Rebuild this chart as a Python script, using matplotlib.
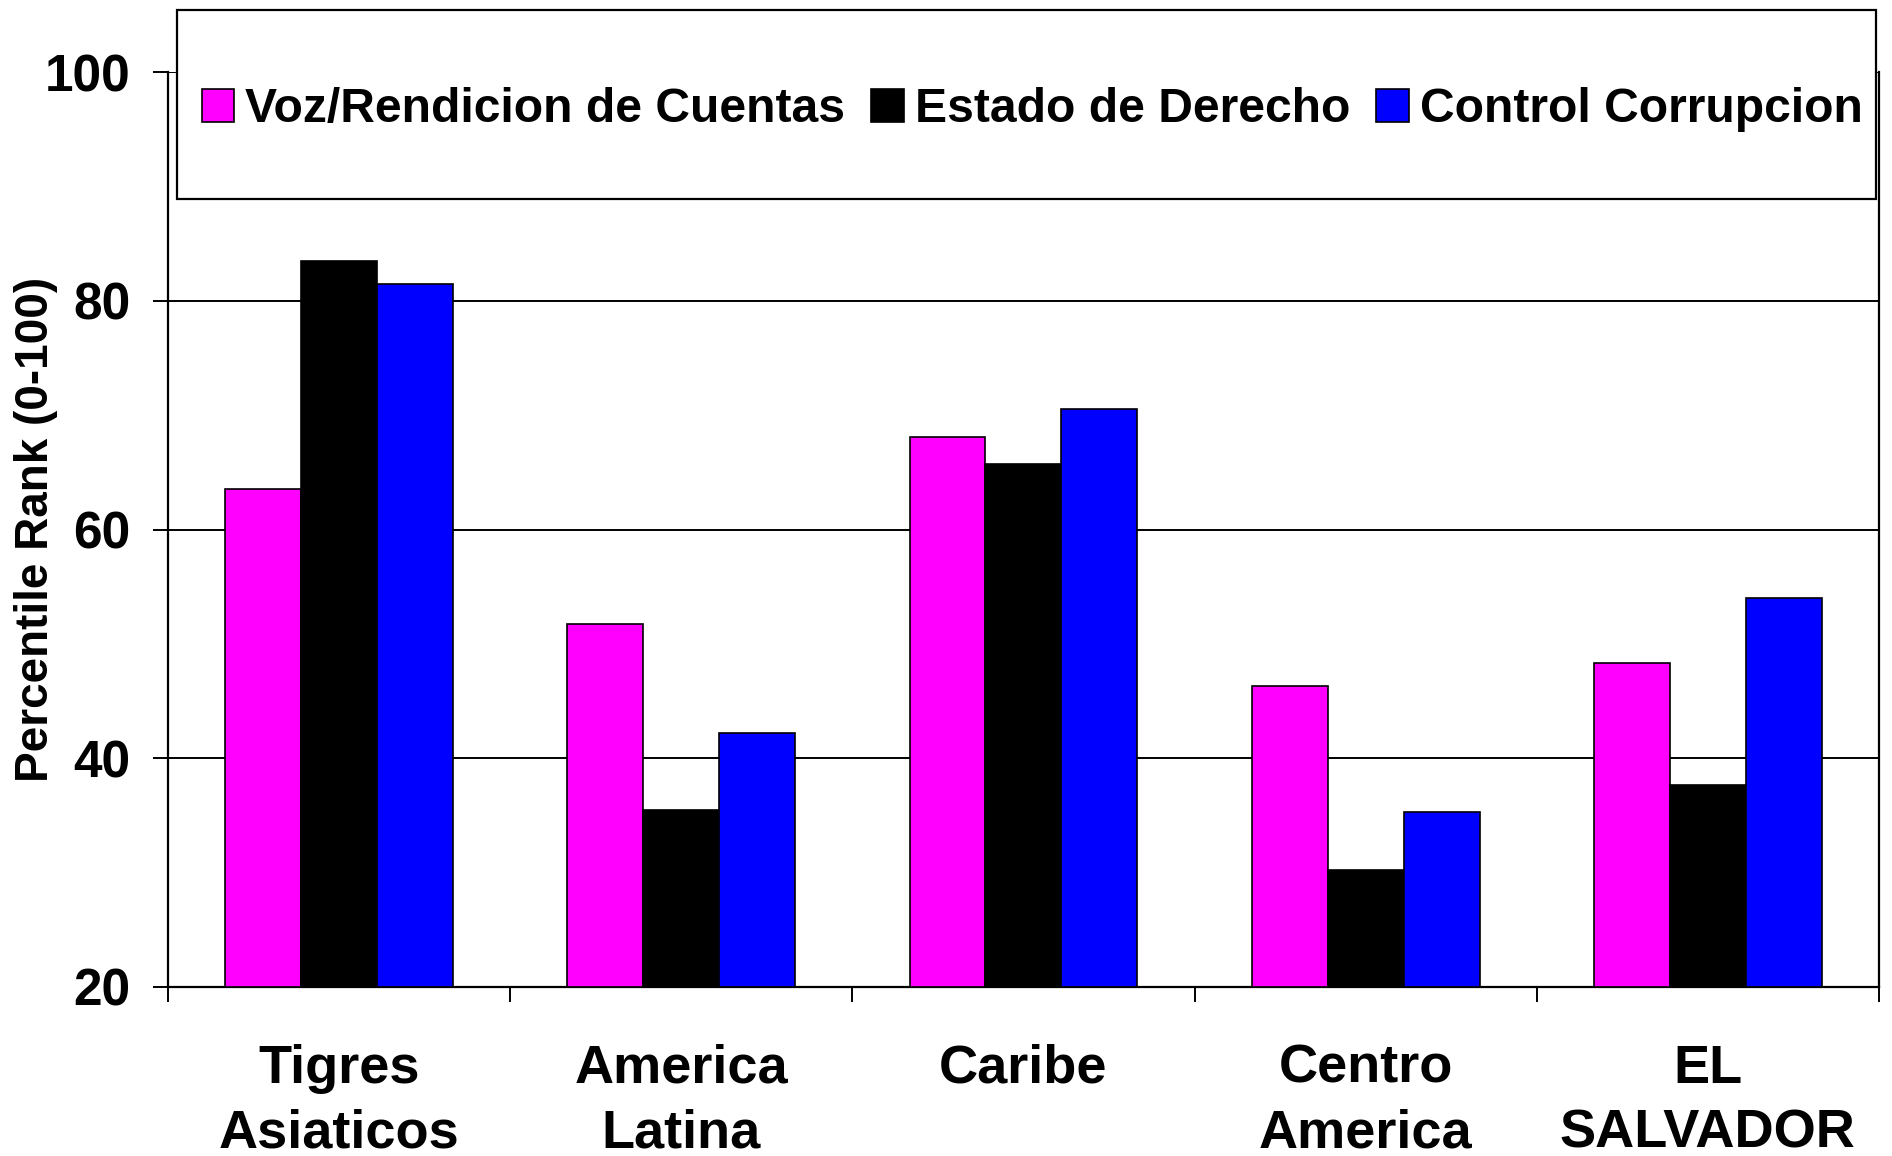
import numpy as np
from matplotlib import pyplot as plt
from matplotlib.patches import Rectangle

#---Data---#
regiones = ["Tigres\nAsiaticos", "America\nLatina", "Caribe", "Centro\nAmerica", "EL\nSALVADOR"]
voz = [63.5, 51.7, 68.1, 46.3, 48.3]
estado = [83.5, 35.5, 65.7, 30.2, 37.7]
corrupcion = [81.5, 42.2, 70.5, 35.3, 54.0]
series = ["Voz/Rendicion de Cuentas", "Estado de Derecho", "Control Corrupcion"]
colores = ["#FF00FF", "#000000", "#0000FF"]
#---End of Data---#

plt.rcParams['font.family'] = ['Liberation Sans', 'DejaVu Sans']
plt.rcParams['font.weight'] = 'bold'

fig = plt.figure(figsize=(18.92, 11.56), dpi=100)
ax = fig.add_axes([0.0888, 0.1462, 0.9043, 0.7915])

x = np.arange(len(regiones))
w = 0.222
for i, vals in enumerate([voz, estado, corrupcion]):
	ax.bar(x + (i - 1) * w, np.array(vals) - 20, w, bottom=20, color=colores[i],
		edgecolor="black", linewidth=1.2, label=series[i], zorder=3)

ax.set_xlim(-0.5, len(regiones) - 0.5)
ax.set_ylim(20, 100)
ax.set_yticks([20, 40, 60, 80, 100])
ax.yaxis.grid(True, color="black", linewidth=1.4, zorder=0)

# category labels sit between the boundary ticks
ax.set_xticks(x)
ax.set_xticklabels(regiones, fontsize=39, fontweight="bold", linespacing=1.38)
ax.set_xticks(np.arange(-0.5, len(regiones)), minor=True)
ax.tick_params(axis="x", which="major", length=0, pad=41)
ax.tick_params(axis="x", which="minor", length=11, width=1.4, direction="out")
ax.tick_params(axis="y", length=11, width=1.4, pad=16, labelsize=37)
for lab in ax.get_yticklabels():
	lab.set_fontweight("bold")

# y label placed by hand so it stays inside the figure
fig.text(0.019, 0.542, "Percentile Rank (0-100)", rotation=90, ha="center", va="center",
	fontsize=33, fontweight="bold")

for s in ["left", "bottom", "right"]:
	ax.spines[s].set_linewidth(1.6)
ax.spines["top"].set_visible(False)

#---Legend box---#
caja = Rectangle((0.0936, 0.8279), 0.898, 0.1635, transform=fig.transFigure,
	facecolor="white", edgecolor="black", linewidth=1.6, zorder=10)
fig.patches.append(caja)
leg = fig.legend(loc="center", bbox_to_anchor=(0.5455, 0.905), ncol=3, frameon=False,
	fontsize=34.6, handlelength=0.68, handleheight=0.7, handletextpad=0.22,
	columnspacing=0.55, borderaxespad=0)
leg.set_zorder(11)
for t in leg.get_texts():
	t.set_fontweight("bold")

plt.savefig("out.png", dpi=100)
